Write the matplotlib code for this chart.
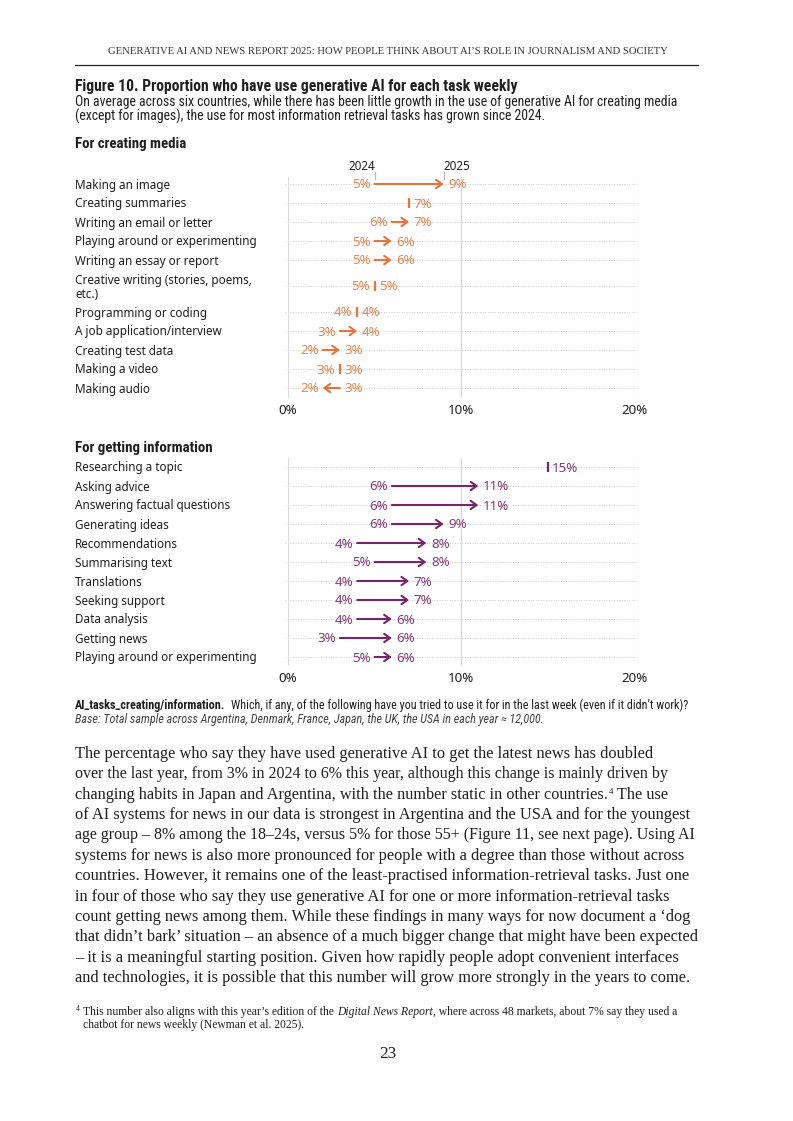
import matplotlib
matplotlib.use("Agg")
import matplotlib.pyplot as plt
from matplotlib import font_manager, transforms
from matplotlib.lines import Line2D

W, H, DPI = 793, 1121, 100

# ---------------- data ----------------
create_tasks = ["Making an image", "Creating summaries", "Writing an email or letter",
                "Playing around or experimenting", "Writing an essay or report",
                "Creative writing (stories, poems,\netc.)", "Programming or coding",
                "A job application/interview", "Creating test data", "Making a video",
                "Making audio"]
create_2024 = [5, None, 6, 5, 5, 5, 4, 3, 2, 3, 3]
create_2025 = [9, 7, 7, 6, 6, 5, 4, 4, 3, 3, 2]

info_tasks = ["Researching a topic", "Asking advice", "Answering factual questions",
              "Generating ideas", "Recommendations", "Summarising text", "Translations",
              "Seeking support", "Data analysis", "Getting news",
              "Playing around or experimenting"]
info_2024 = [None, 6, 6, 6, 4, 5, 4, 4, 4, 3, 5]
info_2025 = [15, 11, 11, 9, 8, 8, 7, 7, 6, 6, 6]

x_ticks = [0, 10, 20]
year_labels = ["2024", "2025"]

header_text = "GENERATIVE AI AND NEWS REPORT 2025: HOW PEOPLE THINK ABOUT AI\u2019S ROLE IN JOURNALISM AND SOCIETY"
title_text = "Figure 10. Proportion who have use generative AI for each task weekly"
subtitle_lines = [
    "On average across six countries, while there has been little growth in the use of generative AI for creating media",
    "(except for images), the use for most information retrieval tasks has grown since 2024.",
]
section_titles = ["For creating media", "For getting information"]
caption_bold = "AI_tasks_creating/information."
caption_rest = "Which, if any, of the following have you tried to use it for in the last week (even if it didn\u2019t work)?"
caption_base = "Base: Total sample across Argentina, Denmark, France, Japan, the UK, the USA in each year \u2248 12,000."
body_lines = [
    "The percentage who say they have used generative AI to get the latest news has doubled",
    "over the last year, from 3% in 2024 to 6% this year, although this change is mainly driven by",
    "changing habits in Japan and Argentina, with the number static in other countries.",
    "of AI systems for news in our data is strongest in Argentina and the USA and for the youngest",
    "age group \u2013 8% among the 18\u201324s, versus 5% for those 55+ (Figure 11, see next page). Using AI",
    "systems for news is also more pronounced for people with a degree than those without across",
    "countries. However, it remains one of the least-practised information-retrieval tasks. Just one",
    "in four of those who say they use generative AI for one or more information-retrieval tasks",
    "count getting news among them. While these findings in many ways for now document a \u2018dog",
    "that didn\u2019t bark\u2019 situation \u2013 an absence of a much bigger change that might have been expected",
    "\u2013 it is a meaningful starting position. Given how rapidly people adopt convenient interfaces",
    "and technologies, it is possible that this number will grow more strongly in the years to come.",
]
body_line3_tail = "The use"
footnote_a = "This number also aligns with this year\u2019s edition of the"
footnote_it = "Digital News Report"
footnote_b = ", where across 48 markets, about 7% say they used a"
footnote_2 = "chatbot for news weekly (Newman et al. 2025)."
page_number = "23"

# ---------------- fonts ----------------
names = {f.name for f in font_manager.fontManager.ttflist}
def pick(*cands):
    for c in cands:
        if c in names:
            return c
    return "DejaVu Sans"

SANS = pick("Noto Sans", "Open Sans", "DejaVu Sans")
COND = pick("Liberation Sans Narrow", "Roboto Condensed", "Roboto", "DejaVu Sans")
SERIF = pick("Liberation Serif", "DejaVu Serif")
SANS_L = [SANS, "DejaVu Sans"]
COND_L = [COND, "DejaVu Sans"]
SERIF_L = [SERIF, "DejaVu Serif"]

TXT = "#1f1f1f"
ORANGE, ORANGE_L = "#E8743A", "#EC8550"
PURPLE, PURPLE_L = "#7A2468", "#88397A"
GRID = "#DADADA"
DOT = "#C8C8C8"

fig = plt.figure(figsize=(W / DPI, H / DPI), dpi=DPI)
fig.patch.set_facecolor("white")
renderer = fig.canvas.get_renderer()
PX = transforms.Affine2D().scale(1 / W, -1 / H).translate(0, 1) + fig.transFigure
PT = 72 / DPI


def fit_size(s, target, **kw):
    t = fig.text(0, 0, s, fontsize=10, **kw)
    w = t.get_window_extent(renderer).width
    t.remove()
    return 10 * target / w


def text_w(s, size, **kw):
    t = fig.text(0, 0, s, fontsize=size, **kw)
    w = t.get_window_extent(renderer).width
    t.remove()
    return w


def space_w(size, **kw):
    return text_w("x x", size, **kw) - text_w("xx", size, **kw)


def ptext(x, y, s, size, **kw):
    kw.setdefault("color", TXT)
    kw.setdefault("va", "baseline")
    return fig.text(x, y, s, fontsize=size, transform=PX, **kw)


# ---------------- page header ----------------
hs = fit_size(header_text, 558, family=SERIF_L)
ptext(388, 54, header_text, hs, family=SERIF_L, ha="center", color="#333333")
fig.add_artist(Line2D([75, 698], [65, 65], transform=PX, color="#222222", lw=0.9))

# ---------------- title block ----------------
ts = fit_size(title_text, 441, family=COND_L, weight="bold")
ptext(75, 91, title_text, ts, family=COND_L, weight="bold")
ss = fit_size(subtitle_lines[0], 599, family=COND_L)
for i, line in enumerate(subtitle_lines):
    ptext(75, 106 + 15 * i, line, ss, family=COND_L)

sec_s = fit_size(section_titles[0], 112, family=COND_L, weight="bold")

# ---------------- chart panels ----------------
lab_s = fit_size("Playing around or experimenting", 182, family=SANS_L)
pct_s = fit_size("11%", 26, family=SANS_L)


def row_positions(tasks):
    lines = [t.count("\n") + 1 for t in tasks]
    pos = [0.0]
    for i in range(1, len(tasks)):
        pos.append(pos[-1] + 19 + 7 * ((lines[i - 1] - 1) + (lines[i] - 1)))
    return pos


def off(tr, dx=0.0, dy=0.0):
    return transforms.offset_copy(tr, fig=fig, x=dx * PT, y=-dy * PT, units="points")


def panel(tasks, v24, v25, top_px, pad_top, pad_bot, color, lcolor, legend=False):
    pos = row_positions(tasks)
    y0, y1 = -pad_top, pos[-1] + pad_bot
    height = y1 - y0
    ax = fig.add_axes([288 / W, 1 - (top_px + height) / H, 346 / W, height / H])
    ax.set_xlim(0, 20)
    ax.set_ylim(y1, y0)
    ax.axis("off")
    for xt in x_ticks:
        ax.axvline(xt, color=GRID, lw=0.9, zorder=1)
    base_tr = off(ax.transData, 0, 4.5)
    lab_base = transforms.blended_transform_factory(PX, ax.transData)
    for task, a, b, y in zip(tasks, v24, v25, pos):
        ax.plot([-0.2, 20.15], [y, y], color=DOT, lw=0.7, ls=(0, (1, 1.6)), zorder=0, clip_on=False)
        nl = task.count("\n")
        fig.text(75, y, task, fontsize=lab_s, family=SANS_L, color=TXT,
                 transform=off(lab_base, 0, 4.5 + 7.5 * nl),
                 va="baseline", ha="left", linespacing=1.12)
        if a is None or a == b:
            ax.plot([b, b], [y - 5, y + 5], color=color, lw=1.6, solid_capstyle="butt", zorder=3)
            gap = 4.5
            if a is not None:
                ax.text(a, y, f"{a}%", transform=off(base_tr, -gap),
                        ha="right", va="baseline", fontsize=pct_s, family=SANS_L, color=lcolor)
            ax.text(b, y, f"{b}%", transform=off(base_tr, gap),
                    ha="left", va="baseline", fontsize=pct_s, family=SANS_L, color=lcolor)
        else:
            ax.annotate("", xy=(b, y), xytext=(a, y),
                        arrowprops=dict(arrowstyle="->,head_length=0.42,head_width=0.3", color=color,
                                        lw=1.5, shrinkA=0, shrinkB=0, mutation_scale=10), zorder=3)
            lo, hi = min(a, b), max(a, b)
            gap = 3.5
            ax.text(lo, y, f"{lo}%", transform=off(base_tr, -gap),
                    ha="right", va="baseline", fontsize=pct_s, family=SANS_L, color=lcolor)
            ax.text(hi, y, f"{hi}%", transform=off(base_tr, gap + 1),
                    ha="left", va="baseline", fontsize=pct_s, family=SANS_L, color=lcolor)
    # x tick labels
    tick_tr = off(transforms.blended_transform_factory(ax.transData, ax.transAxes), 0, 15.5)
    for xt in x_ticks:
        ax.text(xt, 0, f"{xt}%", transform=tick_tr, ha="center", va="baseline",
                fontsize=pct_s, family=SANS_L, color=TXT)
    if legend:
        y = pos[0]
        for val, lab, ha, dx in [(v24[0], year_labels[0], "right", 1), (v25[0], year_labels[1], "left", 0)]:
            ax.plot([val, val], [y - 12, y - 5], color="#BBBBBB", lw=0.9, clip_on=False, zorder=2)
            ax.text(val, y - 14, lab, transform=off(ax.transData, dx, 0),
                    ha=ha, va="baseline", fontsize=lab_s, family=SANS_L, color=TXT)
    return ax


ptext(75, 148, section_titles[0], sec_s, family=COND_L, weight="bold")
panel(create_tasks, create_2024, create_2025, 177, 7, 10, ORANGE, ORANGE_L, legend=True)
ptext(75, 452, section_titles[1], sec_s, family=COND_L, weight="bold")
panel(info_tasks, info_2024, info_2025, 458, 9, 9, PURPLE, PURPLE_L)

# ---------------- caption ----------------
cap_s = fit_size(caption_bold + " " + caption_rest, 606, family=COND_L)
x = 75
ptext(x, 709.5, caption_bold, cap_s, family=COND_L, weight="bold")
x += text_w(caption_bold, cap_s, family=COND_L, weight="bold") + 2 * space_w(cap_s, family=COND_L)
ptext(x, 709.5, caption_rest, cap_s, family=COND_L)
ptext(75, 722.5, caption_base, cap_s, family=COND_L, style="italic", color="#444444")

# ---------------- body text ----------------
# right edges of each line in the reference layout (pixels)
body_right = [652, 670, 668, 689, 697, 683, 687, 669, 687, 697, 678, 690]
bs = fit_size(body_lines[9], 622, family=SERIF_L)
for i, line in enumerate(body_lines):
    yb = 758 + i * 20.36
    full = line + ("4 " + body_line3_tail if i == 2 else "")
    size = fit_size(full, body_right[i] - 75, family=SERIF_L)
    size = min(max(size, bs * 0.96), bs * 1.04)
    ptext(75, yb, line, size, family=SERIF_L)
    if i == 2:
        xx = 75 + text_w(line, size, family=SERIF_L)
        ptext(xx + 0.5, yb - 5, "4", size * 0.55, family=SERIF_L)
        xx += text_w("4", size * 0.55, family=SERIF_L) + space_w(size, family=SERIF_L) + 0.5
        ptext(xx, yb, body_line3_tail, size, family=SERIF_L)

# ---------------- footnote ----------------
fs = fit_size(footnote_a + " " + footnote_it + footnote_b, 595, family=SERIF_L)
ptext(76, 1011, "4", fs * 0.65, family=SERIF_L)
x = 83
ptext(x, 1015, footnote_a, fs, family=SERIF_L)
x += text_w(footnote_a, fs, family=SERIF_L) + space_w(fs, family=SERIF_L)
ptext(x, 1015, footnote_it, fs, family=SERIF_L, style="italic")
x += text_w(footnote_it, fs, family=SERIF_L, style="italic") + 0.5
ptext(x, 1015, footnote_b, fs, family=SERIF_L)
ptext(83, 1028, footnote_2, fs, family=SERIF_L)

ptext(388, 1058, page_number, bs * 1.05, family=SERIF_L, ha="center")

fig.savefig("out.png", dpi=DPI, facecolor="white")
